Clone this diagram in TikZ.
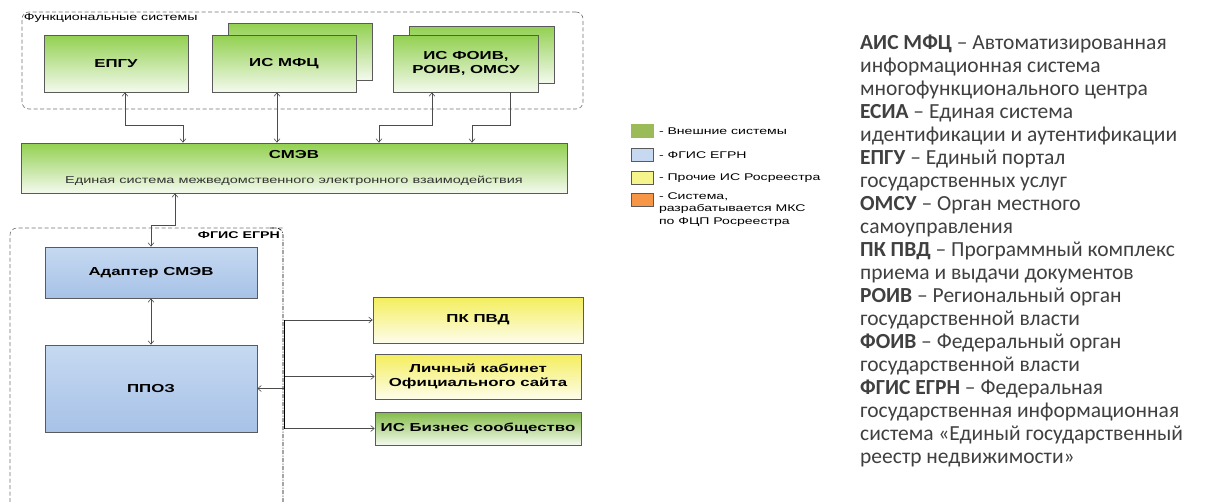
\documentclass[tikz,border=0pt]{standalone}
\usepackage{fontspec}
\setmainfont{Liberation Sans}[FakeStretch=1.45]
\newfontfamily\notefont{Carlito}
\usepackage{tikz}
\usetikzlibrary{positioning, arrows.meta, calc}
\definecolor{ext_green}{HTML}{92D050}
\definecolor{ext_lightgreen}{HTML}{F4FAEE}
\definecolor{ext_legend}{HTML}{9BBB59}
\definecolor{egrn_blue}{HTML}{C6D9F1}
\definecolor{egrn_darkblue}{HTML}{A7C2E7}
\definecolor{rr_yellow}{HTML}{F4EE5C}
\definecolor{rr_lightyellow}{HTML}{FDFDEB}
\definecolor{rr_legend}{HTML}{F5F58C}
\definecolor{mks_orange}{HTML}{F79646}
\definecolor{box_border}{HTML}{5A5A5A}
\definecolor{note_gray}{HTML}{404040}
\tikzstyle{arrow} = [draw=black!70, line width=0.6pt, >={Straight Barb[length=3.5pt,width=6pt]}]
\tikzstyle{sysbox} = [rectangle, draw=box_border, line width=0.7pt, font=\bfseries\fontsize{11.6}{13.5}\selectfont, align=center, inner sep=2pt]
\tikzstyle{extsys} = [sysbox, top color=ext_green, bottom color=ext_lightgreen]
\tikzstyle{egrnsys} = [sysbox, top color=egrn_blue, bottom color=egrn_darkblue]
\tikzstyle{rrsys} = [sysbox, top color=rr_yellow, bottom color=rr_lightyellow]
\tikzstyle{group} = [draw=black!55, line width=0.6pt, rounded corners=7pt, dash pattern=on 4pt off 2.5pt]
\tikzstyle{legendbox} = [rectangle, draw=box_border, minimum width=22pt, minimum height=13pt, inner sep=0pt, line width=0.6pt]
\tikzstyle{legendtext} = [font=\fontsize{9.7}{12.5}\selectfont, inner sep=0pt, align=left]

\begin{document}
\begin{tikzpicture}[x=1pt, y=-1pt]
        \useasboundingbox [fill=white] (0,0) rectangle (1210,501);
        \node (funcsys) [group, minimum width=561pt, minimum height=97pt] at (302.5,60.5) {};
        \node (funcsys_label) [anchor=north west, font=\fontsize{9.8}{12}\selectfont, inner sep=2pt] at (funcsys.north west) {Функциональные системы};
        \node (epgu) [extsys, minimum width=144pt, minimum height=57pt] at (116,63.5) {ЕПГУ};
        \node (mfc_back) [extsys, minimum width=144pt, minimum height=57pt] at (300,51.5) {};
        \node (mfc) [extsys, minimum width=144pt, minimum height=57pt] at (284,63.5) {ИС МФЦ};
        \node (foiv_back) [extsys, minimum width=145pt, minimum height=57pt] at (482,54.5) {};
        \node (foiv) [extsys, minimum width=145pt, minimum height=57pt] at (466,63.5) {ИС ФОИВ,\\РОИВ, ОМСУ};
        \node (smev) [extsys, minimum width=546pt, minimum height=50pt] at (294,168) {СМЭВ\\[12pt]{\mdseries\color{black!80}\fontsize{10}{12}\selectfont Единая система межведомственного электронного взаимодействия}};

        \draw [group] (10,515) -- (10,228) -- (283,228);
        \draw [draw=black, line width=0.6pt, rounded corners=7pt, dash pattern=on 4pt off 1.5pt on 1pt off 1.5pt] (270,228) -- (283,228) -- (283,515);
        \node (egrn_label) [anchor=north east, font=\bfseries\fontsize{9.8}{12}\selectfont, inner sep=2pt] at (282,229) {ФГИС ЕГРН};
        \node (adapter) [egrnsys, minimum width=212pt, minimum height=51pt] at (151,272.5) {Адаптер СМЭВ};
        \node (ppoz) [egrnsys, minimum width=212pt, minimum height=87pt] at (151,388.5) {ППОЗ};
        \node (pkpvd) [rrsys, minimum width=210pt, minimum height=46pt] at (478,320) {ПК ПВД};
        \node (lk) [rrsys, minimum width=206pt, minimum height=45pt] at (478,376.5) {Личный кабинет\\Официального сайта};
        \node (biz) [extsys, top color=ext_green!90!black, minimum width=206pt, minimum height=33pt] at (478,428.5) {ИС Бизнес сообщество};
        \coordinate (hub) at ([xshift=27pt]ppoz.east);

        \draw [arrow, <->] ([xshift=9pt]epgu.south) -- ++(0,33) -| ([xshift=-111pt]smev.north);
        \draw [arrow, <->] ([xshift=-7pt]mfc.south) coordinate (mfc_port) -- (mfc_port |- smev.north);
        \draw [arrow, <->] ([xshift=-34pt]foiv.south) -- ++(0,33) -| ([xshift=85pt]smev.north);
        \draw [arrow, ->] ([xshift=44pt]foiv.south) -- ++(0,33) -| ([xshift=178pt]smev.north);
        \draw [arrow, <->] ([xshift=-119pt]smev.south) -- ++(0,32) -| (adapter.north);
        \draw [arrow, <->] (adapter) -- (ppoz);
        \draw [arrow, ->] (hub) -- (ppoz.east);
        \draw [arrow, ->] (hub) |- (pkpvd.west);
        \draw [arrow, ->] (hub) |- (lk.west);
        \draw [arrow, ->] (hub) |- (biz.west);
        \draw [line width=0.9pt] (hub |- pkpvd.west) -- (hub |- biz.west);

        \node (leg_ext) [legendbox, fill=ext_legend, draw=ext_legend] at (642.5,131) {};
        \node (leg_ext_text) [legendtext, right=5pt of leg_ext] {- Внешние системы};
        \node (leg_egrn) [legendbox, fill=egrn_blue] at (642.5,155) {};
        \node (leg_egrn_text) [legendtext, right=5pt of leg_egrn] {- ФГИС ЕГРН};
        \node (leg_rr) [legendbox, fill=rr_legend] at (642.5,178) {};
        \node (leg_rr_text) [legendtext, right=5pt of leg_rr] {- Прочие ИС Росреестра};
        \node (leg_mks) [legendbox, fill=mks_orange] at (642.5,200) {};
        \node (leg_mks_text) [legendtext, anchor=north west, yshift=1pt] at ([xshift=5pt]leg_mks.north east) {- Система,\\разрабатывается МКС\\по ФЦП Росреестра};

        \node (notes) [anchor=north west, align=left, inner sep=0pt, text=note_gray, font=\notefont\fontsize{21.5}{23}\selectfont] at (860,35) {\textbf{АИС МФЦ} – Автоматизированная\\информационная система\\многофункционального центра\\\textbf{ЕСИА} – Единая система\\идентификации и аутентификации\\\textbf{ЕПГУ} – Единый портал\\государственных услуг\\\textbf{ОМСУ} – Орган местного\\самоуправления\\\textbf{ПК ПВД} – Программный комплекс\\приема и выдачи документов\\\textbf{РОИВ} – Региональный орган\\государственной власти\\\textbf{ФОИВ} – Федеральный орган\\государственной власти\\\textbf{ФГИС ЕГРН} – Федеральная\\государственная информационная\\система «Единый государственный\\реестр недвижимости»};
    \end{tikzpicture}
\end{document}
